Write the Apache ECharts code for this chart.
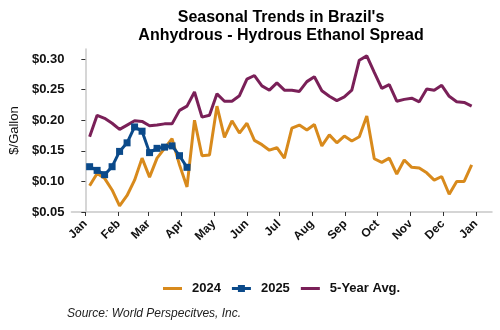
<!DOCTYPE html>
<html>
<head>
<meta charset="utf-8">
<script src="https://cdn.jsdelivr.net/npm/echarts@6/dist/echarts.min.js"></script>
<style>html,body{margin:0;padding:0;background:#fff}#c{width:500px;height:330px}</style>
</head>
<body>
<div id="c"></div>
<script>
// Day-of-year of each weekly observation
var weekDays = [4,11,18,25,32,39,46,53,60,67,74,81,88,95,102,109,116,123,130,137,144,151,158,165,172,179,186,193,200,207,214,221,228,235,242,249,256,263,270,277,284,291,298,305,312,319,326,333,340,347,354,361];
var y2024 = [0.093,0.113,0.105,0.086,0.060,0.077,0.102,0.138,0.107,0.138,0.154,0.170,0.127,0.091,0.200,0.142,0.143,0.223,0.172,0.199,0.179,0.195,0.167,0.160,0.151,0.155,0.138,0.187,0.192,0.184,0.193,0.158,0.176,0.163,0.174,0.166,0.173,0.207,0.137,0.131,0.138,0.112,0.135,0.123,0.122,0.114,0.102,0.108,0.079,0.100,0.100,0.127];
var y2025 = [0.124,0.118,0.111,0.124,0.149,0.163,0.189,0.182,0.147,0.154,0.156,0.158,0.142,0.123];
var yAvg = [0.173,0.208,0.203,0.195,0.185,0.192,0.199,0.198,0.191,0.192,0.194,0.194,0.216,0.223,0.246,0.205,0.208,0.243,0.231,0.231,0.240,0.267,0.273,0.256,0.249,0.261,0.249,0.249,0.247,0.263,0.271,0.248,0.239,0.232,0.238,0.249,0.298,0.305,0.278,0.252,0.258,0.231,0.234,0.236,0.230,0.251,0.249,0.257,0.239,0.230,0.229,0.223];
var monthStarts = [0,31,59,90,120,151,181,212,243,273,304,334,365];
var monthLabels = ['Jan','Feb','Mar','Apr','May','Jun','Jul','Aug','Sep','Oct','Nov','Dec','Jan'];
var yTicks = [0.05,0.10,0.15,0.20,0.25,0.30];

function pairs(ys){ return ys.map(function(v,i){ return [weekDays[i], v]; }); }
var FONT = 'Arial, "Liberation Sans", sans-serif';
var LINE_ICON = 'path://M0,2H19V5H0Z M0,0H0.01V7H0Z';
var SQ_ICON = 'path://M0,2H19V5H0Z M6,0H13V7H6Z';
var chart = echarts.init(document.getElementById('c'), null, {renderer:'canvas'});
chart.setOption({
  animation:false,
  textStyle:{fontFamily:FONT},
  title:{
    text:"Seasonal Trends in Brazil's\nAnhydrous - Hydrous Ethanol Spread",
    left:276, top:4, textAlign:'center',
    textStyle:{fontFamily:FONT, fontSize:16, fontWeight:'bold', color:'#000', lineHeight:18}
  },
  legend:{
    top:277, left:158,
    itemWidth:19, itemHeight:7, itemGap:11,
    textStyle:{fontFamily:FONT, fontSize:13, fontWeight:'bold', color:'#111', padding:[0,0,0,5]},
    data:[{name:'2024', icon:LINE_ICON},{name:'2025', icon:SQ_ICON},{name:'5-Year Avg.', icon:LINE_ICON}]
  },
  graphic:[{
    type:'text', left:67, top:308,
    style:{text:'Source: World Perspecitves, Inc.', font:'italic 12px '+FONT, fill:'#222'}
  }],
  grid:{left:66, right:8, top:49, bottom:118},
  xAxis:{
    type:'value', min:-13, max:380,
    splitLine:{show:false},
    axisLine:{show:true, lineStyle:{color:'#c8c8c8', width:1.5}},
    axisTick:{show:true, customValues:monthStarts, length:4, lineStyle:{color:'#333'}},
    axisLabel:{customValues:monthStarts, rotate:45, fontSize:12, fontWeight:'bold', color:'#111', margin:10,
      formatter:function(v){ var i=monthStarts.indexOf(v); return i>=0?monthLabels[i]:''; }}
  },
  yAxis:{
    type:'value', min:0.05, max:0.3163,
    name:'$/Gallon', nameLocation:'middle', nameGap:49,
    nameTextStyle:{fontFamily:FONT, fontSize:13, color:'#111'},
    splitLine:{show:false},
    axisLine:{show:true, lineStyle:{color:'#c8c8c8', width:1.5}},
    axisTick:{show:true, customValues:yTicks, length:4, lineStyle:{color:'#333'}},
    axisLabel:{customValues:yTicks, fontSize:13, fontWeight:'bold', color:'#111', margin:7,
      formatter:function(v){ return '$'+v.toFixed(2); }}
  },
  series:[
    {name:'2024', type:'line', data:pairs(y2024), symbol:'none', lineStyle:{color:'#D88A1C', width:3}, itemStyle:{color:'#D88A1C'}, z:2},
    {name:'2025', type:'line', data:pairs(y2025), symbol:'rect', symbolSize:7, lineStyle:{color:'#0B4A8A', width:3}, itemStyle:{color:'#0B4A8A'}, z:4},
    {name:'5-Year Avg.', type:'line', data:pairs(yAvg), symbol:'none', lineStyle:{color:'#7A2058', width:3}, itemStyle:{color:'#7A2058'}, z:3}
  ]
});
</script>
</body>
</html>
